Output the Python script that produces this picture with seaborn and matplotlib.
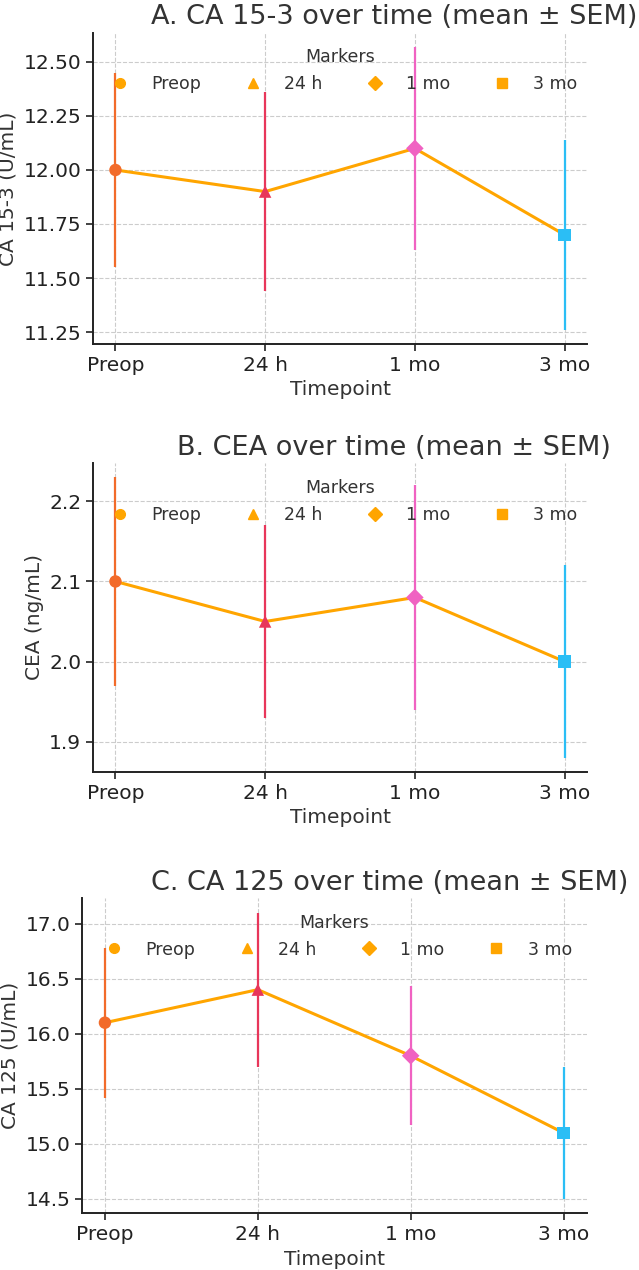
import matplotlib
matplotlib.use("Agg")
import matplotlib.pyplot as plt
from matplotlib.lines import Line2D
from matplotlib.ticker import MultipleLocator
import pandas as pd
import seaborn as sns

# ---------------- data ----------------
timepoints = ["Preop", "24 h", "1 mo", "3 mo"]

ca153_mean = [12.00, 11.90, 12.10, 11.70]
ca153_sem = [0.45, 0.46, 0.47, 0.44]

cea_mean = [2.10, 2.05, 2.08, 2.00]
cea_sem = [0.13, 0.12, 0.14, 0.12]

ca125_mean = [16.10, 16.40, 15.80, 15.10]
ca125_sem = [0.68, 0.70, 0.63, 0.60]

panel_titles = ["A. CA 15-3 over time (mean ± SEM)",
                "B. CEA over time (mean ± SEM)",
                "C. CA 125 over time (mean ± SEM)"]
panel_ylabels = ["CA 15-3 (U/mL)", "CEA (ng/mL)", "CA 125 (U/mL)"]
panel_ytick_steps = [0.25, 0.1, 0.5]

# ---------------- style ----------------
line_color = "#FFA500"
point_colors = ["#F26B2A", "#E8365A", "#F062C2", "#2BBEF5"]
marker_shapes = ["o", "^", "D", "s"]

sns.set_theme(style="ticks")
plt.rcParams["font.family"] = ["DejaVu Sans"]
plt.rcParams.update({
    "text.color": "#333333",
    "axes.labelcolor": "#333333",
    "xtick.color": "#222222",
    "ytick.color": "#222222",
    "axes.edgecolor": "#222222",
})

fig = plt.figure(figsize=(6.39, 12.70), dpi=100)

W, H = 639, 1270
rects_px = [  # left, right, top, bottom in pixels
    (93, 587, 32.7, 344.0),
    (93, 587, 463.3, 771.7),
    (82, 586.5, 898.2, 1213.3),
]

datasets = [(ca153_mean, ca153_sem), (cea_mean, cea_sem), (ca125_mean, ca125_sem)]

palette = dict(zip(timepoints, point_colors))
markers = dict(zip(timepoints, marker_shapes))

for i, ((means, sems), (l, r, t, b)) in enumerate(zip(datasets, rects_px)):
    ax = fig.add_axes([l / W, 1 - b / H, (r - l) / W, (b - t) / H])
    df = pd.DataFrame({"Timepoint": timepoints, "mean": means, "sem": sems})

    sns.lineplot(data=df, x="Timepoint", y="mean", color=line_color,
                 linewidth=2.2, ax=ax, zorder=2, sort=False)
    for tp, m, s, c in zip(timepoints, means, sems, point_colors):
        ax.errorbar([tp], [m], yerr=[s], fmt="none", ecolor=c,
                    elinewidth=1.6, capsize=0, zorder=3)
    sns.scatterplot(data=df, x="Timepoint", y="mean", hue="Timepoint",
                    style="Timepoint", palette=palette, markers=markers,
                    s=80, linewidth=0, legend=False, ax=ax, zorder=4)

    ax.set_title(panel_titles[i], fontsize=19.5, x=0.61, color="#333333")
    ax.set_xlabel("Timepoint", fontsize=14.5)
    ax.set_ylabel(panel_ylabels[i], fontsize=14.5)
    ax.tick_params(axis="both", labelsize=14.5, width=1.2, length=5)
    ax.yaxis.set_major_locator(MultipleLocator(panel_ytick_steps[i]))
    ax.grid(True, linestyle="--", color="#cccccc", linewidth=0.8)
    ax.set_axisbelow(True)
    sns.despine(ax=ax)
    for sp in ["left", "bottom"]:
        ax.spines[sp].set_linewidth(1.4)

    handles = [Line2D([], [], marker=mk, color=line_color, linestyle="None",
                      markersize=7, label=tp)
               for tp, mk in zip(timepoints, marker_shapes)]
    leg = ax.legend(handles=handles, loc="upper center", ncol=4, frameon=False,
                    title="Markers", fontsize=12.5, title_fontsize=12.5,
                    columnspacing=2.0)
    for txt in leg.get_texts():
        txt.set_color("#333333")
    leg.get_title().set_color("#333333")

fig.savefig("out.png", dpi=100)
